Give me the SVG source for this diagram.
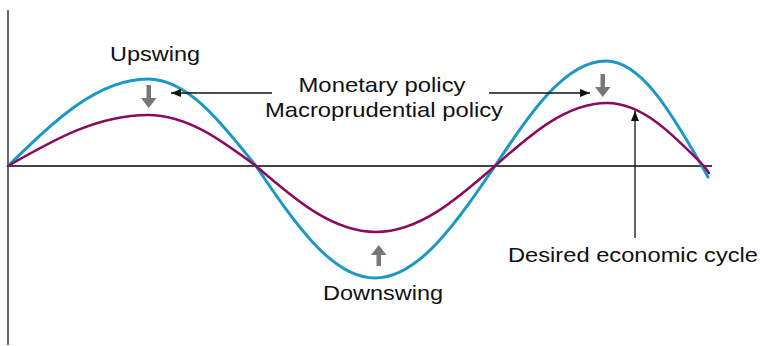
<svg xmlns="http://www.w3.org/2000/svg" width="760" height="346" viewBox="0 0 760 346">
<defs>
<style>
.t{font-family:"Liberation Sans",Arial,sans-serif;font-size:21px;fill:#111;text-anchor:middle}
.ax{stroke:#444;fill:none}
.blue{stroke:#1b98c4;stroke-width:3;fill:none;stroke-linecap:round}
.purple{stroke:#8a0b5c;stroke-width:2.5;fill:none;stroke-linecap:round}
.blk{stroke:#111;stroke-width:1.3;fill:none}
.gray{fill:#777}
</style>
<marker id="ah" viewBox="0 0 10 8" refX="10" refY="4" markerWidth="10" markerHeight="8" markerUnits="userSpaceOnUse" orient="auto">
<path d="M0,0 L10,4 L0,8 Z" fill="#111"/>
</marker>
</defs>
<rect width="760" height="346" fill="#fff"/>
<g id="axes">
<line class="ax" x1="8" y1="10" x2="8" y2="345" stroke-width="1.6"/>
<line class="ax" x1="8" y1="166" x2="712" y2="166" stroke-width="2"/>
</g>
<g id="curves">
<path id="cycle-actual" class="blue" d="M8,166 C53.7,121.4 97.3,79 148,79 C187.1,79 220.8,121.4 256,166 C294.8,223.4 331.9,278 375,278 C418.4,278 455.9,223.4 495,166 C530.9,112.2 565.2,61 606,61 C641,61 671,112.2 702,166 L708,177"/>
<path id="cycle-desired" class="purple" d="M8,166 C53.7,139.9 97.3,115 148,115 C187.1,115 220.8,139.9 256,166 C295.1,199.8 332.6,232 376,232 C419.1,232 456.2,199.8 495,166 C531.5,133.7 566.5,103 607,103 C642.1,103 672.4,133.7 704,166 L709,173"/>
</g>
<g id="connectors">
<line class="blk" x1="272" y1="93" x2="171" y2="93" marker-end="url(#ah)"/>
<line class="blk" x1="489" y1="93" x2="590" y2="93" marker-end="url(#ah)"/>
<line class="blk" x1="635" y1="238" x2="635" y2="111" marker-end="url(#ah)"/>
</g>
<g id="policy-arrows">
<path class="gray" d="M146.5,85 h4.5 v13 h5.5 l-7.75,10 l-7.75,-10 h5.5 Z"/>
<path class="gray" d="M600.5,74 h4.5 v13 h5.5 l-7.75,10 l-7.75,-10 h5.5 Z"/>
<path class="gray" d="M376.5,266 h4.5 v-11 h5.5 l-7.75,-10 l-7.75,10 h5.5 Z"/>
</g>
<g id="upswing"><text class="t" x="155" y="61" textLength="90" lengthAdjust="spacingAndGlyphs">Upswing</text></g>
<g id="policy"><text class="t" x="382" y="92" textLength="167" lengthAdjust="spacingAndGlyphs">Monetary policy</text>
<text class="t" x="384" y="117" textLength="238" lengthAdjust="spacingAndGlyphs">Macroprudential policy</text></g>
<g id="downswing"><text class="t" x="383" y="300" textLength="120" lengthAdjust="spacingAndGlyphs">Downswing</text></g>
<g id="desired"><text class="t" x="633" y="262" textLength="250" lengthAdjust="spacingAndGlyphs">Desired economic cycle</text></g>
</svg>
